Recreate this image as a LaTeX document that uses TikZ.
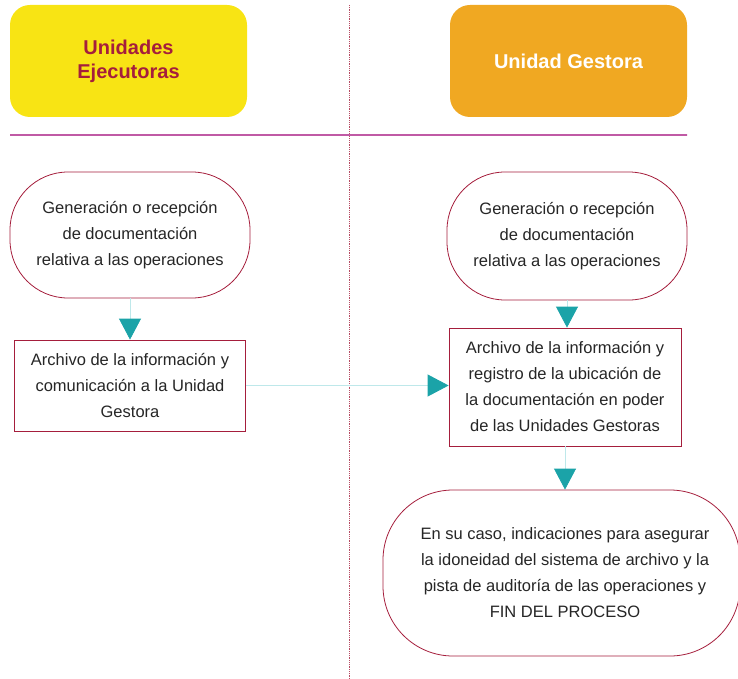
\documentclass[tikz,border=0pt]{standalone}
\usepackage{fontspec}
\setmainfont{Liberation Sans}
\usetikzlibrary{arrows.meta}
\definecolor{Amarillo}{RGB}{248,228,20}
\definecolor{Naranja}{RGB}{240,168,34}
\definecolor{Granate}{RGB}{165,30,60}
\definecolor{Turquesa}{RGB}{27,163,168}
\definecolor{Celeste}{RGB}{190,232,234}
\definecolor{Magenta}{RGB}{192,90,165}

\begin{document}
\begin{tikzpicture}[x=1pt,y=-1pt,
  titulo/.style={rounded corners=20pt,minimum width=237pt,minimum height=112pt,
    font=\bfseries\fontsize{20}{24}\selectfont,align=center},
  inicio/.style={draw=Granate,thick,fill=white,rounded corners=58pt,align=center,
    font=\fontsize{16.5}{26}\selectfont,text=black!85},
  caja/.style={draw=Granate,thick,fill=white,align=center,
    font=\fontsize{16.5}{26}\selectfont,text=black!85},
  flecha/.style={draw=Celeste,thick,-{Triangle[width=22pt,length=21pt,color=Turquesa]}}]

\useasboundingbox (0,0) rectangle (738,679);

% carriles
\draw[Granate!80,densely dotted,thick] (349,5) -- (349,679);
\shade[left color=Magenta,middle color=Magenta!40,right color=Magenta] (10,134.3) rectangle (687,135.7);

% cabeceras
\node[titulo,fill=Amarillo,text=Granate] (ejec) at (128.5,61) {Unidades\\Ejecutoras};
\node[titulo,fill=Naranja,text=white] (gest) at (568.5,61) {Unidad Gestora};

% Unidades Ejecutoras
\node[inicio,minimum width=240pt,minimum height=126pt] (genL) at (130,235)
  {Generación o recepción\\de documentación\\relativa a las operaciones};
\node[caja,minimum width=231pt,minimum height=91pt] (arcL) at (130,385.5)
  {Archivo de la información y\\comunicación a la Unidad\\Gestora};

% Unidad Gestora
\node[inicio,minimum width=240pt,minimum height=128pt] (genR) at (567,236)
  {Generación o recepción\\de documentación\\relativa a las operaciones};
\node[caja,minimum width=232pt,minimum height=118pt] (arcR) at (565,387)
  {Archivo de la información y\\registro de la ubicación de\\la documentación en poder\\de las Unidades Gestoras};
\node[inicio,rounded corners=70pt,minimum width=357pt,minimum height=166pt] (fin) at (561.5,573) {};
\node[align=center,font=\fontsize{16.5}{26}\selectfont,text=black!85] (finT) at (565,573)
  {En su caso, indicaciones para asegurar\\la idoneidad del sistema de archivo y la\\pista de auditoría de las operaciones y\\FIN DEL PROCESO};

% flujo
\draw[flecha] (genL.south) -- (arcL.north);
\draw[flecha] (arcL.east) -- (arcL.east -| arcR.west);
\draw[flecha] (genR.south) -- (genR.south |- arcR.north);
\draw[flecha] (arcR.south) -- (arcR.south |- fin.north);

\end{tikzpicture}
\end{document}
